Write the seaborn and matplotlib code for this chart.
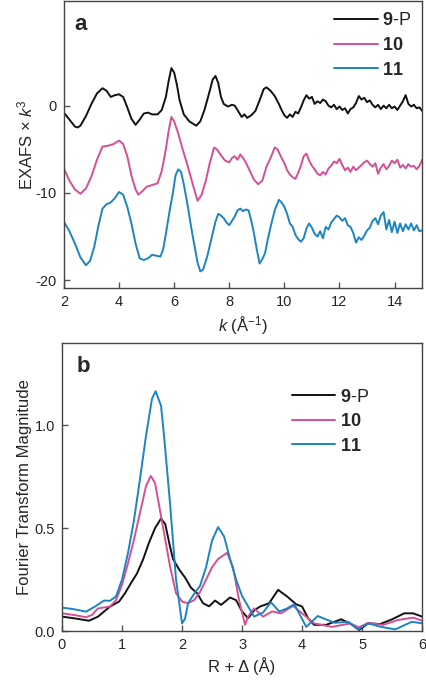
import numpy as np
import pandas as pd
import seaborn as sns
import matplotlib.pyplot as plt

# ---------------- data ----------------
names = ["9-P", "10", "11"]
labels = ["$\\mathbf{9}$-P", "$\\mathbf{10}$", "$\\mathbf{11}$"]
colors = ["#111111", "#d64f95", "#1b85c4"]

# panel a: EXAFS x k^3 (offset traces)
k_9p = [2.0, 2.2, 2.4, 2.5, 2.6, 2.8, 3.0, 3.2, 3.4, 3.55, 3.7, 3.85, 4.0, 4.15, 4.3, 4.45, 4.6, 4.75,
        4.9, 5.05, 5.2, 5.4, 5.55, 5.7, 5.8, 5.9, 6.0, 6.1, 6.2, 6.35, 6.55, 6.8, 6.95, 7.1, 7.25, 7.4,
        7.5, 7.6, 7.7, 7.8, 7.95, 8.1, 8.2, 8.3, 8.45, 8.55, 8.65, 8.8, 8.95, 9.1, 9.25, 9.35, 9.5,
        9.65, 9.8, 9.9,
        10.0, 10.1, 10.2, 10.3, 10.4, 10.5, 10.6, 10.7, 10.8, 10.9, 11.0, 11.1, 11.2, 11.3, 11.4, 11.5,
        11.6, 11.7, 11.8, 11.9, 12.0, 12.1, 12.2, 12.3, 12.4, 12.5, 12.6, 12.7, 12.8, 12.9, 13.0, 13.1,
        13.2, 13.3, 13.4, 13.5, 13.6, 13.7, 13.8, 13.9, 14.0, 14.1, 14.2, 14.3, 14.4, 14.5, 14.6, 14.7,
        14.8, 14.9, 15.0]
exafs_9p = [-0.8, -1.6, -2.4, -2.5, -2.3, -1.2, 0.2, 1.4, 2.0, 1.7, 1.0, 1.2, 1.3, 1.0, -0.2, -1.5, -2.2, -1.6,
            -0.9, -0.8, -1.0, -1.0, -0.5, 1.0, 2.8, 4.3, 3.8, 2.4, 0.6, -1.0, -1.8, -2.3, -1.8, -0.5, 1.2, 3.0,
            3.4, 2.6, 1.0, 0.2, -0.1, 0.1, 0.0, -0.5, -1.3, -1.0, -1.4, -1.1, -0.6, 0.6, 1.9, 2.1, 1.7,
            1.1, 0.2, -0.5,
            -1.1, -1.4, -1.0, -1.3, -0.7, -0.9, -0.2, 0.6, 1.2, 0.8, 1.0, 0.2, 0.5, 0.3, 0.7, 0.5,
            0.0, -0.2, 0.1, -0.4, -0.1, -0.5, -0.3, -0.9, -0.4, -0.2, 0.3, 1.1, 0.7, 0.9, 0.4, 0.6,
            0.1, -0.2, 0.1, -0.4, 0.0, -0.3, 0.1, -0.3, -0.1, -0.5, 0.0, 0.5, 1.2, 0.2, -0.1, 0.1,
            -0.3, -0.2, -0.6]

k_10 = [2.0, 2.2, 2.4, 2.6, 2.8, 3.0, 3.2, 3.4, 3.6, 3.8, 4.0, 4.15, 4.3, 4.45, 4.6, 4.7, 4.85, 5.0,
        5.2, 5.4, 5.55, 5.7, 5.8, 5.9, 6.0, 6.15, 6.3, 6.5, 6.7, 6.85, 7.0, 7.15, 7.3, 7.45, 7.55, 7.7,
        7.85, 8.0, 8.1, 8.2, 8.3, 8.4, 8.5, 8.6, 8.75, 8.9, 9.05, 9.2, 9.35, 9.5, 9.65, 9.75, 9.9,
        10.0, 10.1, 10.2, 10.3, 10.4, 10.5, 10.6, 10.7, 10.8, 10.9, 11.0, 11.1, 11.2, 11.3, 11.4, 11.5,
        11.6, 11.7, 11.8, 11.9, 12.0, 12.1, 12.2, 12.3, 12.4, 12.5, 12.6, 12.7, 12.8, 12.9, 13.0, 13.1,
        13.2, 13.3, 13.4, 13.5, 13.6, 13.7, 13.8, 13.9, 14.0, 14.1, 14.2, 14.3, 14.4, 14.5, 14.6, 14.7,
        14.8, 14.9, 15.0]
exafs_10 = [-7.2, -8.6, -9.6, -10.1, -9.5, -8.1, -6.2, -4.7, -4.6, -4.4, -4.0, -4.4, -5.8, -8.0, -9.6, -10.2,
            -9.8, -9.3, -9.1, -8.9, -7.5, -5.0, -2.9, -1.3, -1.8, -3.2, -4.9, -7.0, -9.3, -10.9, -10.2, -8.6,
            -6.5, -4.8, -5.0, -5.7, -6.3, -6.5, -6.0, -5.8, -6.2, -5.6, -6.0, -6.5, -7.5, -8.5, -9.0, -8.6,
            -7.0, -6.0, -4.8, -5.0, -6.0,
            -6.6, -7.4, -7.9, -8.2, -8.4, -7.7, -6.9, -5.8, -5.5, -6.3, -6.9, -7.3, -7.8, -8.0, -7.6, -7.9,
            -7.2, -6.9, -6.4, -6.6, -6.1, -6.8, -7.4, -7.1, -7.6, -7.0, -7.4, -7.1, -6.8, -6.5, -6.3, -6.7,
            -7.0, -6.6, -7.8, -7.1, -6.7, -7.3, -6.9, -6.3, -6.6, -6.2, -7.1, -6.8, -7.2, -6.7, -7.0, -6.9,
            -7.3, -6.9, -6.2]

k_11 = [2.0, 2.2, 2.4, 2.6, 2.8, 2.95, 3.1, 3.25, 3.4, 3.55, 3.7, 3.85, 4.0, 4.15, 4.3, 4.45, 4.6, 4.75,
        4.9, 5.05, 5.2, 5.35, 5.5, 5.6, 5.7, 5.85, 5.95, 6.05, 6.15, 6.25, 6.35, 6.5, 6.6, 6.7, 6.85, 6.95,
        7.05, 7.2, 7.35, 7.5, 7.6, 7.7, 7.8, 7.9, 8.0, 8.1, 8.2, 8.3, 8.4, 8.5, 8.6, 8.7, 8.8, 8.9,
        9.0, 9.1, 9.2, 9.3, 9.4, 9.5, 9.65, 9.8, 9.9,
        10.0, 10.1, 10.2, 10.3, 10.4, 10.5, 10.6, 10.7, 10.8, 10.9, 11.0, 11.1, 11.2, 11.3, 11.4, 11.5,
        11.6, 11.7, 11.8, 11.9, 12.0, 12.1, 12.2, 12.3, 12.4, 12.5, 12.6, 12.7, 12.8, 12.9, 13.0, 13.1,
        13.2, 13.3, 13.4, 13.5, 13.6, 13.7, 13.8, 13.9, 14.0, 14.1, 14.2, 14.3, 14.4, 14.5, 14.6, 14.7,
        14.8, 14.9, 15.0]
exafs_11 = [-13.3, -14.4, -15.8, -17.4, -18.3, -17.8, -16.2, -13.8, -11.8, -11.3, -11.1, -10.6, -9.9, -10.2,
            -11.6, -13.5, -15.8, -17.5, -17.7, -17.5, -17.1, -17.2, -17.3, -16.5, -14.7, -11.8, -10.1, -8.0,
            -7.3, -7.6, -9.0, -11.6, -13.6, -15.4, -18.0, -19.0, -18.8, -17.3, -15.3, -13.3, -12.4, -12.6,
            -12.9, -13.4, -13.7, -13.2, -12.7, -12.0, -11.8, -12.1, -11.9, -12.0, -13.2, -14.7,
            -16.5, -18.1, -17.6, -16.9, -15.3, -13.9, -12.0, -10.8, -11.1,
            -11.6, -12.4, -13.5, -13.9, -14.8, -15.3, -15.6, -15.2, -14.1, -13.5, -14.0, -14.7, -15.0, -14.4,
            -15.2, -13.9, -14.2, -13.4, -13.0, -12.6, -12.8, -13.2, -12.9, -13.7, -13.9, -14.6, -15.7, -15.1,
            -15.4, -14.9, -14.3, -14.0, -13.2, -12.9, -13.6, -12.6, -12.2, -14.2, -13.1, -14.5, -13.3, -14.6,
            -13.5, -14.4, -13.6, -14.2, -13.5, -14.3, -13.7, -14.4, -14.3]

# panel b: Fourier transform magnitude
r_9p = [0.0, 0.2, 0.45, 0.6, 0.8, 0.95, 1.05, 1.15, 1.25, 1.35, 1.45, 1.55, 1.65, 1.72, 1.8, 1.85,
        1.95, 2.05, 2.15, 2.25, 2.35, 2.45, 2.55, 2.65, 2.8, 2.9, 3.0, 3.1, 3.2, 3.3, 3.45, 3.6, 3.75,
        3.9, 4.0, 4.1, 4.2, 4.4, 4.65, 4.8, 4.95, 5.1, 5.3, 5.5, 5.7, 5.85, 6.0]
ft_9p = [0.07, 0.062, 0.05, 0.07, 0.119, 0.143, 0.184, 0.233, 0.28, 0.347, 0.43, 0.50, 0.547, 0.52, 0.41, 0.35,
         0.30, 0.26, 0.21, 0.184, 0.135, 0.12, 0.148, 0.127, 0.163, 0.15, 0.095, 0.062, 0.10, 0.119, 0.135,
         0.20, 0.168, 0.13, 0.119, 0.062, 0.03, 0.03, 0.057, 0.037, 0.005, 0.037, 0.034, 0.057, 0.086,
         0.086, 0.07]

r_10 = [0.0, 0.2, 0.4, 0.5, 0.6, 0.8, 0.9, 1.0, 1.1, 1.2, 1.3, 1.4, 1.48, 1.55, 1.6, 1.7, 1.8, 1.9,
        2.0, 2.1, 2.2, 2.3, 2.4, 2.5, 2.6, 2.7, 2.75, 2.85, 2.95, 3.05, 3.1, 3.2, 3.35, 3.5, 3.65, 3.85,
        4.0, 4.2, 4.5, 4.8, 4.95, 5.1, 5.35, 5.6, 5.85, 6.0]
ft_10 = [0.086, 0.078, 0.067, 0.078, 0.11, 0.119, 0.15, 0.225, 0.33, 0.445, 0.575, 0.705, 0.754, 0.72, 0.64,
         0.477, 0.314, 0.184, 0.143, 0.135, 0.15, 0.19, 0.25, 0.31, 0.35, 0.37, 0.38, 0.31, 0.15, 0.03, 0.07,
         0.11, 0.07, 0.095, 0.086, 0.122, 0.086, 0.037, 0.02, 0.037, 0.018, 0.04, 0.03, 0.054, 0.065, 0.05]

r_11 = [0.0, 0.2, 0.4, 0.55, 0.7, 0.8, 0.9, 1.0, 1.1, 1.2, 1.3, 1.4, 1.5, 1.56, 1.65, 1.7, 1.8, 1.9,
        2.0, 2.05, 2.1, 2.2, 2.3, 2.4, 2.5, 2.6, 2.7, 2.8, 2.9, 3.0, 3.1, 3.2, 3.35, 3.48, 3.62, 3.75,
        3.87, 4.07, 4.26, 4.54, 4.77, 4.93, 5.1, 5.32, 5.55, 5.83, 6.0]
ft_11 = [0.114, 0.106, 0.094, 0.119, 0.148, 0.147, 0.168, 0.25, 0.38, 0.54, 0.74, 0.95, 1.13, 1.166, 1.095,
         0.95, 0.62, 0.25, 0.037, 0.06, 0.135, 0.18, 0.22, 0.31, 0.44, 0.505, 0.46, 0.35, 0.25, 0.17, 0.12,
         0.07, 0.09, 0.14, 0.095, 0.11, 0.13, 0.02, 0.073, 0.04, 0.045, 0.008, 0.037, 0.02, 0.008, 0.045, 0.037]

# ---------------- tables ----------------
df_a = pd.concat([
    pd.DataFrame({"k": k_9p, "v": exafs_9p, "sample": "9-P"}),
    pd.DataFrame({"k": k_10, "v": exafs_10, "sample": "10"}),
    pd.DataFrame({"k": k_11, "v": exafs_11, "sample": "11"}),
])
df_b = pd.concat([
    pd.DataFrame({"r": r_9p, "v": ft_9p, "sample": "9-P"}),
    pd.DataFrame({"r": r_10, "v": ft_10, "sample": "10"}),
    pd.DataFrame({"r": r_11, "v": ft_11, "sample": "11"}),
])

# ---------------- style ----------------
sns.set_theme(style="ticks")
plt.rcParams["font.family"] = ["Liberation Sans", "DejaVu Sans"]
plt.rcParams["mathtext.fontset"] = "custom"
plt.rcParams["mathtext.rm"] = "Liberation Sans"
plt.rcParams["mathtext.it"] = "Liberation Sans:italic"
plt.rcParams["mathtext.bf"] = "Liberation Sans:bold"
plt.rcParams["axes.unicode_minus"] = False

pal = dict(zip(names, colors))

fig = plt.figure(figsize=(4.26, 6.85), dpi=100)
ax1 = fig.add_axes([0.150, 0.5796, 0.841, 0.419])
ax2 = fig.add_axes([0.1455, 0.0788, 0.8455, 0.4204])

sns.lineplot(data=df_a, x="k", y="v", hue="sample", hue_order=names, palette=pal,
             estimator=None, sort=False, lw=1.4, ax=ax1)
sns.lineplot(data=df_b, x="r", y="v", hue="sample", hue_order=names, palette=pal,
             estimator=None, sort=False, lw=1.4, ax=ax2)

# panel a
ax1.set_xlim(2, 15)
ax1.set_ylim(-20.9, 12)
ax1.set_xticks([2, 4, 6, 8, 10, 12, 14])
ax1.set_yticks([0, -10, -20])
ax1.set_xlabel("$k$ (Å$^{-1}$)", fontsize=12, labelpad=4)
ax1.set_ylabel("EXAFS × $k^3$", fontsize=12, labelpad=0)
ax1.text(0.03, 0.955, "a", transform=ax1.transAxes, fontsize=16, fontweight="bold", va="top")

# panel b
ax2.set_xlim(0, 6)
ax2.set_ylim(0, 1.40)
ax2.set_xticks([0, 1, 2, 3, 4, 5, 6])
ax2.set_yticks([0.0, 0.5, 1.0])
ax2.set_yticklabels(["0.0", "0.5", "1.0"])
ax2.set_xlabel("R + Δ (Å)", fontsize=12, labelpad=4)
ax2.set_ylabel("Fourier Transform Magnitude", fontsize=12, labelpad=2)
ax2.text(0.04, 0.955, "b", transform=ax2.transAxes, fontsize=16, fontweight="bold", va="top")

for ax in (ax1, ax2):
    ax.tick_params(direction="in", length=4, width=1, labelsize=10.5, color="#555555", pad=5)
    for s in ax.spines.values():
        s.set_linewidth(1.0)
        s.set_color("#444444")

# legends
for ax, anchor in ((ax1, (0.755, 0.960)), (ax2, (0.638, 0.842))):
    handles, _ = ax.get_legend_handles_labels()
    ax.legend(handles, labels, loc="upper left", bbox_to_anchor=anchor, frameon=False,
              fontsize=13, handlelength=2.4, handletextpad=0.25, labelspacing=0.42,
              borderpad=0, borderaxespad=0)

plt.savefig("out.png", dpi=100)
